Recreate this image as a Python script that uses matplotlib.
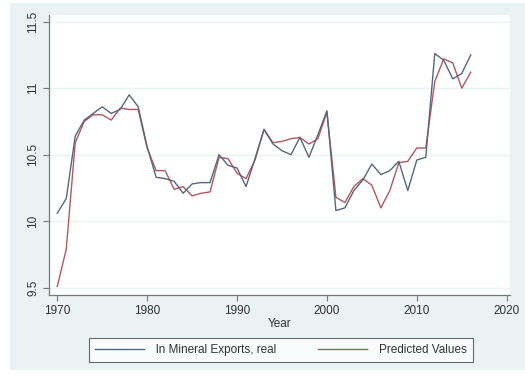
import matplotlib
matplotlib.use("Agg")
import matplotlib.pyplot as plt
from matplotlib.patches import Rectangle

years = list(range(1970, 2017))
real = [10.06, 10.17, 10.64, 10.76, 10.81, 10.86, 10.81, 10.84, 10.95, 10.86,
        10.56, 10.33, 10.32, 10.30, 10.21, 10.28, 10.29, 10.29, 10.50, 10.42,
        10.40, 10.26, 10.47, 10.69, 10.58, 10.53, 10.50, 10.63, 10.48, 10.65,
        10.83, 10.08, 10.10, 10.23, 10.31, 10.43, 10.35, 10.38, 10.45, 10.23,
        10.46, 10.48, 11.26, 11.21, 11.07, 11.11, 11.25]
pred = [9.51, 9.79, 10.59, 10.75, 10.80, 10.80, 10.76, 10.85, 10.84, 10.84,
        10.55, 10.38, 10.38, 10.24, 10.26, 10.19, 10.21, 10.22, 10.48, 10.47,
        10.36, 10.32, 10.46, 10.69, 10.59, 10.60, 10.62, 10.63, 10.58, 10.62,
        10.82, 10.18, 10.14, 10.26, 10.32, 10.27, 10.10, 10.23, 10.44, 10.45,
        10.55, 10.55, 11.05, 11.22, 11.19, 11.00, 11.12]
xticks = [1970, 1980, 1990, 2000, 2010, 2020]
yticks = [9.5, 10, 10.5, 11, 11.5]
ytick_labels = ["9.5", "10", "10.5", "11", "11.5"]
labels = ["ln Mineral Exports, real", "Predicted Values"]

plt.rcParams['font.family'] = ['Liberation Sans', 'DejaVu Sans']

W, H = 525, 380
fig = plt.figure(figsize=(W / 100, H / 100), dpi=100)
fig.patch.set_facecolor('white')
fig.patches.append(Rectangle((10 / W, 1 - 370 / H), (W - 10) / W, (370 - 3) / H,
                             transform=fig.transFigure, facecolor='#eaf2f3',
                             edgecolor='none', zorder=-10))

ax = fig.add_axes([49 / W, 1 - 295 / H, (510 - 49) / W, (295 - 15) / H])
ax.set_facecolor('white')
ax.plot(years, real, color='#55677c', lw=1.0, label=labels[0], zorder=3)
ax.plot(years, pred, color='#b0585e', lw=1.0, label=labels[1], zorder=2)

ax.set_xlim(1969.08, 2020.37)
ax.set_ylim(9.445, 11.55)
ax.set_xticks(xticks)
ax.set_yticks(yticks)
ax.set_yticklabels(ytick_labels, rotation=90, va='center')
for y in yticks:
    ax.axhline(y, color='#eaf2f3', lw=1.0, zorder=1)

for s in ['top', 'right']:
    ax.spines[s].set_visible(False)
for s in ['left', 'bottom']:
    ax.spines[s].set_color('#777777')
    ax.spines[s].set_linewidth(0.9)
ax.tick_params(axis='both', direction='out', length=4, width=0.8, color='#777777',
               labelsize=8.5, labelcolor='#333333', pad=3)
ax.set_xlabel('Year', fontsize=8.5, color='#333333', labelpad=1)

leg = fig.legend(loc='center', bbox_to_anchor=(281 / W, 1 - 350 / H), ncol=2,
                 fontsize=8.5, frameon=True, fancybox=False, handlelength=4.2,
                 columnspacing=3.5, handletextpad=1.0, borderpad=0.5)
leg.get_frame().set_edgecolor('#444444')
leg.get_frame().set_linewidth(0.8)
for t in leg.get_texts():
    t.set_color('#333333')

fig.savefig('out.png', dpi=100, facecolor=fig.get_facecolor())
